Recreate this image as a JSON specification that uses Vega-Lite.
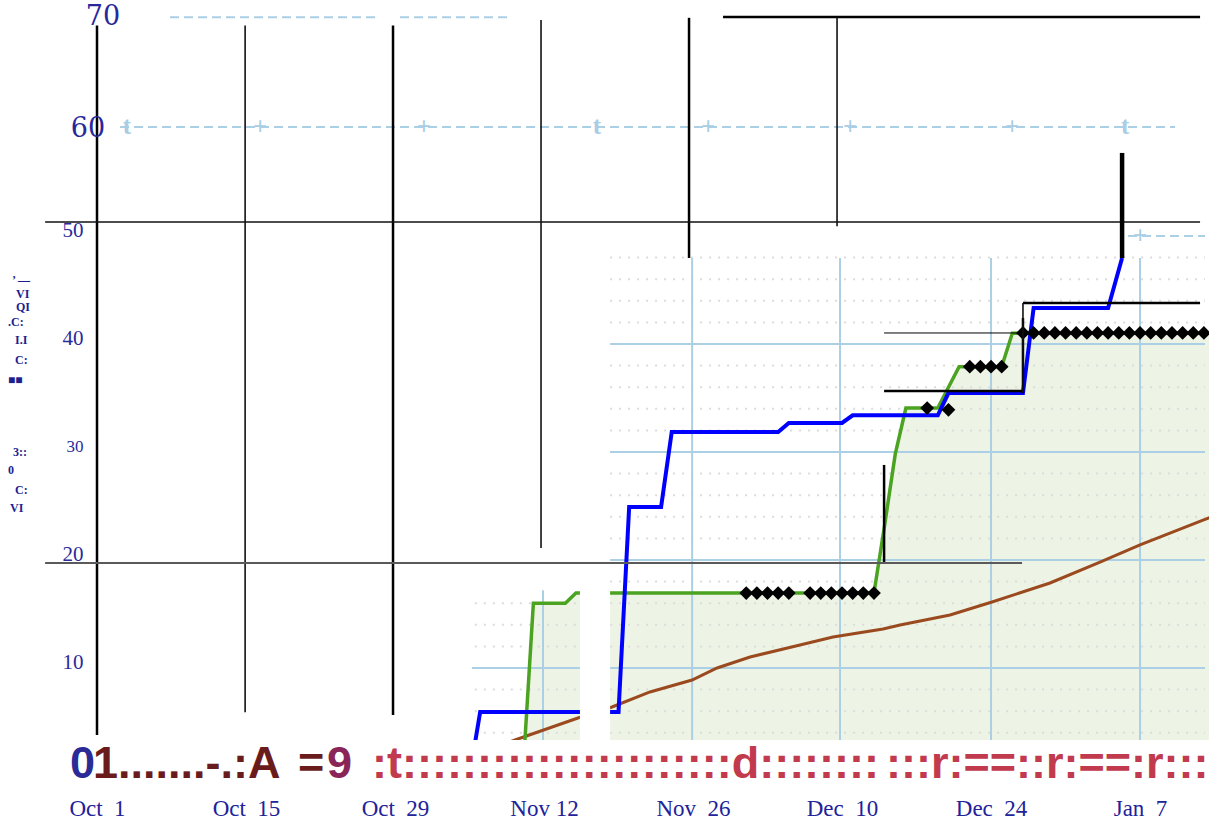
{
  "$schema": "https://vega.github.io/schema/vega-lite/v6.json",
  "width": 1209,
  "height": 826,
  "padding": 0,
  "autosize": {"type": "none"},
  "background": "white",
  "config": {"view": {"stroke": null}},
  "resolve": {"scale": {"color": "independent"}},
  "datasets": {
    "green": [
      {"x": "2017-11-05T00:00", "y": 0},
      {"x": "2017-11-10T00:00", "y": 0},
      {"x": "2017-11-11T00:00", "y": 16.0},
      {"x": "2017-11-14T00:00", "y": 16.0},
      {"x": "2017-11-15T00:00", "y": 16.94},
      {"x": "2017-12-13T00:00", "y": 16.94},
      {"x": "2017-12-14T00:00", "y": 23.2},
      {"x": "2017-12-15T00:00", "y": 29.8},
      {"x": "2017-12-16T00:00", "y": 34.07},
      {"x": "2017-12-19T00:00", "y": 34.07},
      {"x": "2017-12-20T00:00", "y": 36.0},
      {"x": "2017-12-21T00:00", "y": 37.9},
      {"x": "2017-12-25T00:00", "y": 37.9},
      {"x": "2017-12-26T00:00", "y": 41.0},
      {"x": "2018-01-14T00:00", "y": 41.0}
    ],
    "blue": [
      {"x": "2017-11-05T00:00", "y": 0},
      {"x": "2017-11-06T00:00", "y": 5.93},
      {"x": "2017-11-19T00:00", "y": 5.93},
      {"x": "2017-11-20T00:00", "y": 24.91},
      {"x": "2017-11-23T00:00", "y": 24.91},
      {"x": "2017-11-24T00:00", "y": 31.85},
      {"x": "2017-12-04T00:00", "y": 31.85},
      {"x": "2017-12-05T00:00", "y": 32.69},
      {"x": "2017-12-10T00:00", "y": 32.69},
      {"x": "2017-12-11T00:00", "y": 33.4},
      {"x": "2017-12-19T00:00", "y": 33.4},
      {"x": "2017-12-20T00:00", "y": 35.46},
      {"x": "2017-12-27T00:00", "y": 35.46},
      {"x": "2017-12-28T00:00", "y": 43.33},
      {"x": "2018-01-04T00:00", "y": 43.33},
      {"x": "2018-01-05T07:30", "y": 47.96}
    ],
    "brown": [
      {"x": "2017-11-06T00:00", "y": 2.2},
      {"x": "2017-11-09T06:30", "y": 3.33},
      {"x": "2017-11-15T04:30", "y": 5.37},
      {"x": "2017-11-18T09:20", "y": 6.39},
      {"x": "2017-11-21T23:00", "y": 7.78},
      {"x": "2017-11-25T21:50", "y": 8.89},
      {"x": "2017-11-28T06:15", "y": 10.0},
      {"x": "2017-12-01T08:40", "y": 11.02},
      {"x": "2017-12-06T01:10", "y": 12.13},
      {"x": "2017-12-09T03:40", "y": 12.87},
      {"x": "2017-12-13T20:25", "y": 13.61},
      {"x": "2017-12-15T10:50", "y": 13.98},
      {"x": "2017-12-20T03:35", "y": 14.91},
      {"x": "2017-12-24T02:10", "y": 16.11},
      {"x": "2017-12-29T13:00", "y": 17.87},
      {"x": "2018-01-03T05:45", "y": 19.81},
      {"x": "2018-01-07T00:00", "y": 21.39},
      {"x": "2018-01-12T22:05", "y": 23.7},
      {"x": "2018-01-14T00:00", "y": 24.1}
    ],
    "diamonds": [
      {"x": "2017-12-01T00:00", "y": 16.94},
      {"x": "2017-12-02T00:00", "y": 16.94},
      {"x": "2017-12-03T00:00", "y": 16.94},
      {"x": "2017-12-04T00:00", "y": 16.94},
      {"x": "2017-12-05T00:00", "y": 16.94},
      {"x": "2017-12-07T00:00", "y": 16.94},
      {"x": "2017-12-08T00:00", "y": 16.94},
      {"x": "2017-12-09T00:00", "y": 16.94},
      {"x": "2017-12-10T00:00", "y": 16.94},
      {"x": "2017-12-11T00:00", "y": 16.94},
      {"x": "2017-12-12T00:00", "y": 16.94},
      {"x": "2017-12-13T00:00", "y": 16.94},
      {"x": "2017-12-18T00:00", "y": 34.07},
      {"x": "2017-12-20T00:00", "y": 33.9},
      {"x": "2017-12-22T00:00", "y": 37.9},
      {"x": "2017-12-23T00:00", "y": 37.9},
      {"x": "2017-12-24T00:00", "y": 37.9},
      {"x": "2017-12-25T00:00", "y": 37.9},
      {"x": "2017-12-27T00:00", "y": 41.02},
      {"x": "2017-12-28T00:00", "y": 41.02},
      {"x": "2017-12-29T00:00", "y": 41.02},
      {"x": "2017-12-30T00:00", "y": 41.02},
      {"x": "2017-12-31T00:00", "y": 41.02},
      {"x": "2018-01-01T00:00", "y": 41.02},
      {"x": "2018-01-02T00:00", "y": 41.02},
      {"x": "2018-01-03T00:00", "y": 41.02},
      {"x": "2018-01-04T00:00", "y": 41.02},
      {"x": "2018-01-05T00:00", "y": 41.02},
      {"x": "2018-01-06T00:00", "y": 41.02},
      {"x": "2018-01-07T00:00", "y": 41.02},
      {"x": "2018-01-08T00:00", "y": 41.02},
      {"x": "2018-01-09T00:00", "y": 41.02},
      {"x": "2018-01-10T00:00", "y": 41.02},
      {"x": "2018-01-11T00:00", "y": 41.02},
      {"x": "2018-01-12T00:00", "y": 41.02},
      {"x": "2018-01-13T00:00", "y": 41.02}
    ],
    "rules": [
      {"x": "2017-10-01T00:00", "x2": "2017-10-01T00:00", "y": 3.8, "y2": 69.5, "kind": "heavy"},
      {"x": "2017-10-14T22:00", "x2": "2017-10-14T22:00", "y": 5.9, "y2": 69.5, "kind": "light"},
      {"x": "2017-10-28T19:30", "x2": "2017-10-28T19:30", "y": 5.65, "y2": 69.5, "kind": "heavy"},
      {"x": "2017-11-11T17:15", "x2": "2017-11-11T17:15", "y": 21.1, "y2": 70.0, "kind": "light"},
      {"x": "2017-11-25T15:00", "x2": "2017-11-25T15:00", "y": 47.96, "y2": 70.2, "kind": "heavy"},
      {"x": "2017-12-09T12:45", "x2": "2017-12-09T12:45", "y": 50.9, "y2": 70.3, "kind": "light"},
      {"x": "2017-12-13T22:50", "x2": "2017-12-13T22:50", "y": 19.72, "y2": 28.8, "kind": "heavy"},
      {"x": "2017-12-27T00:00", "x2": "2017-12-27T00:00", "y": 35.5, "y2": 43.8, "kind": "light"},
      {"x": "2017-12-27T00:00", "x2": "2017-12-27T00:00", "y": 35.46, "y2": 42.4, "kind": "heavy"},
      {"x": "2018-01-05T07:30", "x2": "2018-01-05T07:30", "y": 47.96, "y2": 57.69, "kind": "spike"},
      {"x": "2017-09-26T03:00", "x2": "2018-01-12T15:20", "y": 51.3, "y2": 51.3, "kind": "light"},
      {"x": "2017-09-26T03:00", "x2": "2017-12-26T22:00", "y": 19.72, "y2": 19.72, "kind": "grey"},
      {"x": "2017-11-28T19:40", "x2": "2018-01-12T15:20", "y": 70.28, "y2": 70.28, "kind": "heavy"},
      {"x": "2017-12-13T22:50", "x2": "2017-12-27T00:00", "y": 35.65, "y2": 35.65, "kind": "heavy"},
      {"x": "2017-12-27T00:00", "x2": "2018-01-12T15:20", "y": 43.8, "y2": 43.8, "kind": "heavy"},
      {"x": "2017-12-13T22:50", "x2": "2017-12-26T22:00", "y": 41.02, "y2": 41.02, "kind": "hair"}
    ],
    "grid": [
      {"x": "2017-11-18T05:00", "x2": "2018-01-13T02:30", "y": 10, "y2": 10},
      {"x": "2017-11-18T05:00", "x2": "2018-01-13T02:30", "y": 20, "y2": 20},
      {"x": "2017-11-18T05:00", "x2": "2018-01-13T02:30", "y": 30, "y2": 30},
      {"x": "2017-11-18T05:00", "x2": "2018-01-13T02:30", "y": 40, "y2": 40},
      {"x": "2017-11-05T05:30", "x2": "2017-11-15T09:00", "y": 10, "y2": 10},
      {"x": "2017-11-25T22:00", "x2": "2017-11-25T22:00", "y": 3.33, "y2": 47.96},
      {"x": "2017-12-09T19:30", "x2": "2017-12-09T19:30", "y": 3.33, "y2": 47.96},
      {"x": "2017-12-24T00:00", "x2": "2017-12-24T00:00", "y": 3.33, "y2": 47.96},
      {"x": "2018-01-07T00:00", "x2": "2018-01-07T00:00", "y": 3.33, "y2": 47.96},
      {"x": "2017-11-11T21:40", "x2": "2017-11-11T21:40", "y": 3.33, "y2": 17.2}
    ],
    "dots": [
      {"x": "2017-11-18T05:00", "x2": "2018-01-13T02:30", "y": 4, "y2": 4},
      {"x": "2017-11-18T05:00", "x2": "2018-01-13T02:30", "y": 6, "y2": 6},
      {"x": "2017-11-18T05:00", "x2": "2018-01-13T02:30", "y": 8, "y2": 8},
      {"x": "2017-11-18T05:00", "x2": "2018-01-13T02:30", "y": 12, "y2": 12},
      {"x": "2017-11-18T05:00", "x2": "2018-01-13T02:30", "y": 14, "y2": 14},
      {"x": "2017-11-18T05:00", "x2": "2018-01-13T02:30", "y": 16, "y2": 16},
      {"x": "2017-11-18T05:00", "x2": "2018-01-13T02:30", "y": 18, "y2": 18},
      {"x": "2017-11-18T05:00", "x2": "2018-01-13T02:30", "y": 22, "y2": 22},
      {"x": "2017-11-18T05:00", "x2": "2018-01-13T02:30", "y": 24, "y2": 24},
      {"x": "2017-11-18T05:00", "x2": "2018-01-13T02:30", "y": 26, "y2": 26},
      {"x": "2017-11-18T05:00", "x2": "2018-01-13T02:30", "y": 28, "y2": 28},
      {"x": "2017-11-18T05:00", "x2": "2018-01-13T02:30", "y": 32, "y2": 32},
      {"x": "2017-11-18T05:00", "x2": "2018-01-13T02:30", "y": 34, "y2": 34},
      {"x": "2017-11-18T05:00", "x2": "2018-01-13T02:30", "y": 36, "y2": 36},
      {"x": "2017-11-18T05:00", "x2": "2018-01-13T02:30", "y": 38, "y2": 38},
      {"x": "2017-11-18T05:00", "x2": "2018-01-13T02:30", "y": 42, "y2": 42},
      {"x": "2017-11-18T05:00", "x2": "2018-01-13T02:30", "y": 44, "y2": 44},
      {"x": "2017-11-18T05:00", "x2": "2018-01-13T02:30", "y": 46, "y2": 46},
      {"x": "2017-11-18T05:00", "x2": "2018-01-13T02:30", "y": 48, "y2": 48},
      {"x": "2017-11-05T12:00", "x2": "2017-11-15T09:00", "y": 4, "y2": 4},
      {"x": "2017-11-05T12:00", "x2": "2017-11-15T09:00", "y": 6, "y2": 6},
      {"x": "2017-11-05T12:00", "x2": "2017-11-15T09:00", "y": 8, "y2": 8},
      {"x": "2017-11-05T12:00", "x2": "2017-11-15T09:00", "y": 12, "y2": 12},
      {"x": "2017-11-05T12:00", "x2": "2017-11-15T09:00", "y": 14, "y2": 14},
      {"x": "2017-11-05T12:00", "x2": "2017-11-15T09:00", "y": 16, "y2": 16}
    ],
    "dash": [
      {"x": "2017-10-07T20:40", "x2": "2017-10-27T03:00", "y": 70.25, "y2": 70.25},
      {"x": "2017-10-29T11:20", "x2": "2017-11-08T23:45", "y": 70.25, "y2": 70.25},
      {"x": "2017-10-03T04:00", "x2": "2018-01-10T07:00", "y": 60.09, "y2": 60.09},
      {"x": "2018-01-05T21:00", "x2": "2018-01-13T02:30", "y": 50.0, "y2": 50.0}
    ],
    "masks": [
      {"x": "2017-09-20T00:00", "x2": "2018-01-15T00:00", "y": -10, "y2": 3.33},
      {"x": "2017-11-15T09:00", "x2": "2017-11-18T05:00", "y": 3.33, "y2": 19.4}
    ],
    "bottomtext": [
      {"x": "2017-09-28T11:07", "y": -0.19, "text": "0", "part": "a"},
      {"x": "2017-09-30T15:00", "y": -0.19, "text": "1.......-.:A", "part": "b"},
      {"x": "2017-10-19T21:20", "y": -0.19, "text": "=", "part": "b"},
      {"x": "2017-10-22T14:40", "y": -0.19, "text": "9", "part": "c"},
      {"x": "2017-10-26T20:10", "y": -0.19, "text": ":t::::::::::::::::::::::d::::::::", "part": "d"},
      {"x": "2017-12-14T03:10", "y": -0.19, "text": ":::r:==::r:==:r:::", "part": "d"}
    ],
    "ylab": [
      {"x": "2017-09-23T00:15", "y": 45.9, "text": "’ —"},
      {"x": "2017-09-23T09:20", "y": 44.63, "text": "VI"},
      {"x": "2017-09-23T09:20", "y": 43.45, "text": "QI"},
      {"x": "2017-09-22T15:20", "y": 42.04, "text": ".C:"},
      {"x": "2017-09-23T07:10", "y": 40.37, "text": "I.I"},
      {"x": "2017-09-23T07:10", "y": 38.52, "text": "C:"},
      {"x": "2017-09-22T15:20", "y": 36.67, "text": "■■"},
      {"x": "2017-09-23T02:40", "y": 30.0, "text": "3::"},
      {"x": "2017-09-22T15:20", "y": 28.33, "text": "0"},
      {"x": "2017-09-23T07:10", "y": 26.48, "text": "C:"},
      {"x": "2017-09-22T19:50", "y": 24.81, "text": "VI"}
    ],
    "bigy": [
      {"x": "2017-10-01T13:30", "y": 69.54, "text": "70"},
      {"x": "2017-09-30T03:40", "y": 59.17, "text": "60"}
    ],
    "glyphs": [
      {"x": "2017-10-03T19:40", "y": 60.2, "text": "t"},
      {"x": "2017-11-16T23:30", "y": 60.2, "text": "t"},
      {"x": "2018-01-05T14:10", "y": 60.2, "text": "t"},
      {"x": "2017-10-16T07:40", "y": 60.09, "text": "+"},
      {"x": "2017-10-31T17:20", "y": 60.09, "text": "+"},
      {"x": "2017-11-27T09:50", "y": 60.09, "text": "+"},
      {"x": "2017-12-10T18:00", "y": 60.09, "text": "+"},
      {"x": "2017-12-25T23:20", "y": 60.09, "text": "+"},
      {"x": "2018-01-07T00:00", "y": 50.0, "text": "+"}
    ]
  },
  "encoding": {
    "x": {
      "field": "x",
      "type": "temporal",
      "scale": {
        "domain": [
          {"year": 2017, "month": 9, "date": 21, "hours": 21, "minutes": 16},
          {"year": 2018, "month": 1, "date": 13, "hours": 11, "minutes": 30}
        ]
      },
      "axis": {
        "orient": "bottom",
        "zindex": 2,
        "values": [
          {"year": 2017, "month": 10, "date": 1},
          {"year": 2017, "month": 10, "date": 15},
          {"year": 2017, "month": 10, "date": 29},
          {"year": 2017, "month": 11, "date": 12},
          {"year": 2017, "month": 11, "date": 26},
          {"year": 2017, "month": 12, "date": 10},
          {"year": 2017, "month": 12, "date": 24},
          {"year": 2018, "month": 1, "date": 7}
        ],
        "labelExpr": "timeFormat(datum.value, '%b') + (timeFormat(datum.value, '%b %d') == 'Nov 12' ? ' ' : '\u00a0\u00a0') + timeFormat(datum.value, '%-d')",
        "labelFont": "Liberation Serif",
        "labelFontSize": 23,
        "labelColor": "#22229a",
        "domain": false,
        "ticks": false,
        "tickSize": 0,
        "grid": false,
        "offset": -29,
        "labelPadding": 0,
        "labelFlush": false,
        "labelOverlap": false,
        "labelBound": false,
        "title": null
      }
    },
    "y": {
      "field": "y",
      "type": "quantitative",
      "scale": {"domain": [-4.63, 71.85], "nice": false, "zero": false},
      "axis": {
        "orient": "left",
        "zindex": 2,
        "values": [10, 20, 30, 40, 50],
        "offset": -88,
        "domain": false,
        "ticks": false,
        "tickSize": 0,
        "grid": false,
        "labelPadding": 5,
        "labelFont": "Liberation Serif",
        "labelFontSize": {"condition": {"test": "datum.value == 30", "value": 17}, "value": 21},
        "labelColor": "#2a2a9c",
        "labelBaseline": "middle",
        "labelOffset": -5,
        "labelOverlap": false,
        "labelBound": false,
        "title": null
      }
    }
  },
  "layer": [
    {"data": {"name": "green"}, "mark": {"type": "area", "color": "#edf4e6", "clip": true}, "encoding": {"y2": {"datum": 0}}},
    {"data": {"name": "dots"}, "mark": {"type": "rule", "color": "#dcdcdc", "strokeWidth": 2, "strokeDash": [2, 7]}, "encoding": {"x2": {"field": "x2"}, "y2": {"field": "y2"}}},
    {"data": {"name": "grid"}, "mark": {"type": "rule", "color": "#abcfe5", "strokeWidth": 2}, "encoding": {"x2": {"field": "x2"}, "y2": {"field": "y2"}}},
    {"data": {"name": "dash"}, "mark": {"type": "rule", "color": "#abcfe5", "strokeWidth": 2, "strokeDash": [9, 5]}, "encoding": {"x2": {"field": "x2"}, "y2": {"field": "y2"}}},
    {"data": {"name": "brown"}, "mark": {"type": "line", "color": "#9a4a1e", "strokeWidth": 3, "clip": true}, "encoding": {}},
    {"data": {"name": "green"}, "mark": {"type": "line", "color": "#4ba321", "strokeWidth": 3.5, "clip": true}, "encoding": {}},
    {"data": {"name": "blue"}, "mark": {"type": "line", "color": "#0000ff", "strokeWidth": 4, "clip": true}, "encoding": {}},
    {"data": {"name": "diamonds"}, "mark": {"type": "point", "shape": "diamond", "filled": true, "color": "black", "size": 190, "opacity": 1, "clip": true}, "encoding": {}},
    {"data": {"name": "masks"}, "mark": {"type": "rect", "color": "white", "clip": true}, "encoding": {"x2": {"field": "x2"}, "y2": {"field": "y2"}}},
    {"data": {"name": "rules"}, "transform": [{"filter": "datum.kind == 'heavy'"}], "mark": {"type": "rule", "color": "black", "strokeWidth": 2.5}, "encoding": {"x2": {"field": "x2"}, "y2": {"field": "y2"}}},
    {"data": {"name": "rules"}, "transform": [{"filter": "datum.kind == 'light'"}], "mark": {"type": "rule", "color": "#111111", "strokeWidth": 1.6}, "encoding": {"x2": {"field": "x2"}, "y2": {"field": "y2"}}},
    {"data": {"name": "rules"}, "transform": [{"filter": "datum.kind == 'hair'"}], "mark": {"type": "rule", "color": "black", "strokeWidth": 1}, "encoding": {"x2": {"field": "x2"}, "y2": {"field": "y2"}}},
    {"data": {"name": "rules"}, "transform": [{"filter": "datum.kind == 'grey'"}], "mark": {"type": "rule", "color": "#5a5a5a", "strokeWidth": 2}, "encoding": {"x2": {"field": "x2"}, "y2": {"field": "y2"}}},
    {"data": {"name": "rules"}, "transform": [{"filter": "datum.kind == 'spike'"}], "mark": {"type": "rule", "color": "black", "strokeWidth": 4.5}, "encoding": {"x2": {"field": "x2"}, "y2": {"field": "y2"}}},
    {
      "data": {"name": "bottomtext"},
      "mark": {"type": "text", "align": "left", "baseline": "alphabetic", "font": "Liberation Sans", "fontWeight": "bold", "fontSize": 45},
      "encoding": {
        "text": {"field": "text"},
        "color": {"field": "part", "type": "nominal", "scale": {"domain": ["a", "b", "c", "d"], "range": ["#2b2b98", "#6a1c1c", "#8a2557", "#c13a4d"]}, "legend": null}
      }
    },
    {"data": {"name": "ylab"}, "mark": {"type": "text", "align": "left", "baseline": "middle", "font": "Liberation Serif", "fontWeight": "bold", "fontSize": 12, "color": "#1e1e8e"}, "encoding": {"text": {"field": "text"}}},
    {"data": {"name": "bigy"}, "mark": {"type": "text", "align": "center", "baseline": "alphabetic", "font": "DejaVu Serif", "fontSize": 27, "color": "#28289c"}, "encoding": {"text": {"field": "text"}}},
    {"data": {"name": "glyphs"}, "mark": {"type": "text", "align": "center", "baseline": "middle", "font": "Liberation Serif", "fontWeight": "bold", "fontSize": 25, "color": "#a9cde4"}, "encoding": {"text": {"field": "text"}}}
  ]
}
